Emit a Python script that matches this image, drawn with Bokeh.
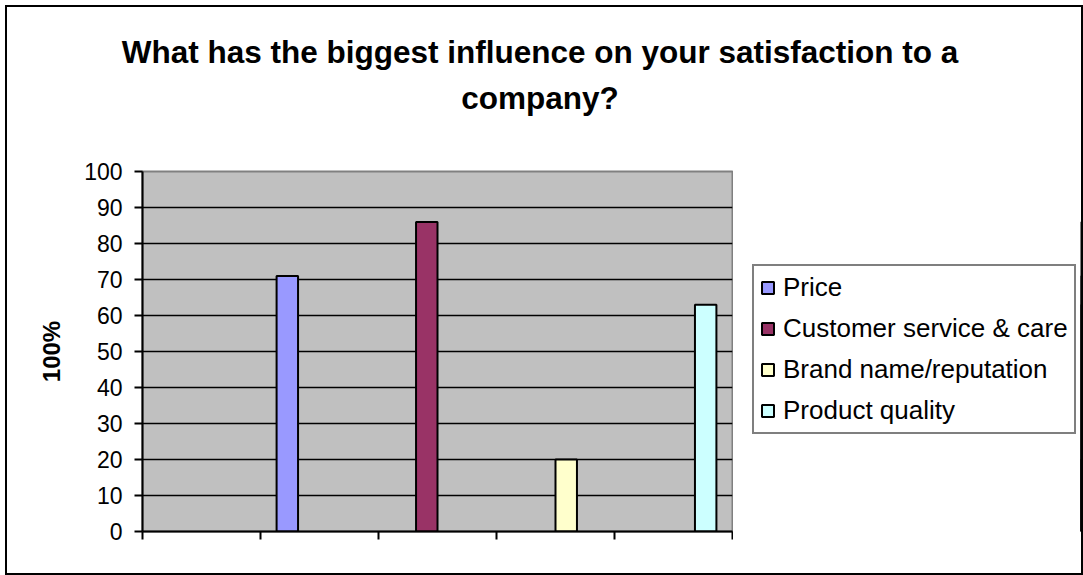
from bokeh.plotting import figure
from bokeh.layouts import column, row
from bokeh.models import ColumnDataSource, Legend, LegendItem, FixedTicker, Range1d, Div
from bokeh.embed import file_html
from bokeh.resources import INLINE

# ---- data ----
title_lines = ["What has the biggest influence on your satisfaction to a", "company?"]
series = ["Price", "Customer service & care", "Brand name/reputation", "Product quality"]
values = [71, 86, 20, 63]
slots = [2, 3, 4, 5]          # category (1..5) in which each series' bar sits
n_categories = 5
colors = ["#9999FF", "#993366", "#FFFFCC", "#CCFFFF"]
y_ticks = list(range(0, 101, 10))
y_label = "100%"

FONT = "Liberation Sans"

# ---- layout (page pixels) ----
M0, BW = 5, 2                        # outer margin and chart border width
OX = OY = M0 + BW                    # content origin
CW, CH = 1083 - OX - BW, 575 - OY - BW
TH = 120                             # height of the title strip
FL, FR, FT, FB = 142, 732, 171, 531  # plot-area edges on the page
LEG_L, LEG_B = 752, 434              # legend box left / bottom on the page

# ---- title ----
title = Div(text="<br>".join(title_lines), width=CW, height=TH, margin=0,
            styles={"font-family": FONT, "font-weight": "bold", "font-size": "31.5px",
                    "line-height": "46px", "text-align": "center", "color": "black",
                    "padding-top": "22px", "padding-right": "8px",
                    "box-sizing": "border-box", "white-space": "nowrap"})

# ---- main chart ----
gap = 1.5
n = len(series)
bw = 1.0 / (n + gap)
xs = [s - 1 + (gap / 2 + i + 0.5) * bw for i, s in enumerate(slots)]
src = ColumnDataSource(dict(x=xs, top=values, color=colors, label=series))

MH = CH - TH
mtop = OY + TH
MW = FR + 1 - OX
p = figure(width=MW, height=MH, output_backend="svg", toolbar_location=None,
           x_range=Range1d(0, n_categories), y_range=Range1d(0, 100),
           min_border_left=FL - OX, min_border_right=1,
           min_border_top=FT - mtop, min_border_bottom=mtop + MH - FB)

p.background_fill_color = "#C0C0C0"
p.border_fill_color = "white"
p.outline_line_color = "#808080"
p.outline_line_width = 2

p.ygrid.grid_line_color = "black"
p.ygrid.grid_line_width = 1.5
p.xgrid.visible = False

p.vbar(x="x", top="top", width=bw, source=src, fill_color="color",
       line_color="black", line_width=2)

p.yaxis.ticker = FixedTicker(ticks=y_ticks)
p.yaxis.axis_line_color = "black"
p.yaxis.axis_line_width = 2
p.yaxis.major_tick_line_color = "black"
p.yaxis.major_tick_line_width = 2
p.yaxis.major_tick_out = 8
p.yaxis.major_tick_in = 0
p.yaxis.minor_tick_line_color = None
p.yaxis.major_label_text_font = FONT
p.yaxis.major_label_text_font_size = "23px"
p.yaxis.major_label_text_color = "black"
p.yaxis.major_label_standoff = 12
p.yaxis.axis_label = y_label
p.yaxis.axis_label_text_font = FONT
p.yaxis.axis_label_text_font_size = "24px"
p.yaxis.axis_label_text_font_style = "bold"
p.yaxis.axis_label_text_color = "black"
p.yaxis.axis_label_standoff = 16

p.xaxis.ticker = FixedTicker(ticks=list(range(0, n_categories + 1)))
p.xaxis.major_label_overrides = {i: "" for i in range(0, n_categories + 1)}
p.xaxis.major_label_text_font_size = "1px"
p.xaxis.axis_line_color = "black"
p.xaxis.axis_line_width = 2
p.xaxis.major_tick_line_color = "black"
p.xaxis.major_tick_line_width = 2
p.xaxis.major_tick_out = 8
p.xaxis.major_tick_in = 0
p.xaxis.minor_tick_line_color = None

# ---- legend panel (its own small figure to the right of the plot area) ----
LW = CW - MW
lg = figure(width=LW, height=MH, output_backend="svg", toolbar_location=None,
            x_range=Range1d(-20, -10), y_range=Range1d(0, 100),
            x_axis_type=None, y_axis_type=None,
            min_border_left=0, min_border_right=0,
            min_border_top=FT - mtop, min_border_bottom=mtop + MH - FB)
lg.grid.visible = False
lg.outline_line_color = None
lg.background_fill_color = "white"
lg.border_fill_color = "white"
lr = lg.vbar(x="x", top="top", width=bw, source=src, fill_color="color",
             line_color="black", line_width=2)

legend = Legend(items=[LegendItem(label=series[i], renderers=[lr], index=i) for i in range(n)],
                location=(LEG_L - (OX + MW), FB - LEG_B), orientation="vertical")
legend.label_text_font = FONT
legend.label_text_font_size = "26px"
legend.label_text_color = "black"
legend.glyph_width = 15
legend.glyph_height = 15
legend.label_standoff = 8
legend.padding = 6
legend.spacing = 10
legend.label_height = 30
legend.label_width = 285
legend.margin = 0
legend.border_line_color = "black"
legend.border_line_width = 2
legend.background_fill_color = "white"
legend.background_fill_alpha = 1
lg.add_layout(legend, "center")

layout = column(title, row(p, lg, spacing=0), margin=(M0, 0, 0, M0), spacing=0,
                styles={"border": f"{BW}px solid black"})

open("out.html", "w").write(file_html(layout, INLINE))
